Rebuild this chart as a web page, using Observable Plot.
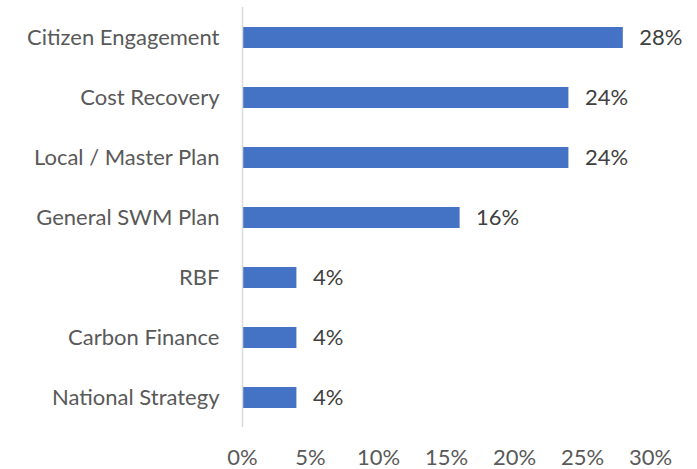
<!DOCTYPE html>
<html>
<head>
<meta charset="utf-8">
<script src="https://cdn.jsdelivr.net/npm/d3@7"></script>
<script src="https://cdn.jsdelivr.net/npm/@observablehq/plot@0.6"></script>
<style>
  html, body { margin: 0; padding: 0; background: #fff; }
  #chart svg { display: block; }
</style>
</head>
<body>
<div id="chart"></div>
<script>
const categories = ["Citizen Engagement", "Cost Recovery", "Local / Master Plan", "General SWM Plan", "RBF", "Carbon Finance", "National Strategy"];
const values = [28, 24, 24, 16, 4, 4, 4];
const xTicks = [0, 5, 10, 15, 20, 25, 30];

const data = categories.map((c, i) => ({category: c, value: values[i]}));

const chart = Plot.plot({
  width: 697,
  height: 469,
  marginLeft: 242,
  marginRight: 47,
  marginTop: 7,
  marginBottom: 42,
  style: {fontFamily: "Lato, sans-serif", fontSize: "22px", color: "#595959", background: "#fff"},
  x: {domain: [0, 30], ticks: xTicks, tickFormat: d => d + "%", label: null},
  y: {domain: categories, paddingInner: 0.65, paddingOuter: 0.325, label: null},
  marks: [
    Plot.barX(data, {x: "value", y: "category", fill: "#4472C4"}),
    Plot.ruleX([0], {stroke: "#d9d9d9", strokeWidth: 1.5}),
    Plot.text(data, {x: "value", y: "category", text: d => d.value + "%", textAnchor: "start", dx: 16, fill: "#404040", fontSize: 22}),
    Plot.axisY({tickSize: 0, tickPadding: 23, fill: "#595959", fontSize: 22}),
    Plot.axisX({ticks: xTicks, tickFormat: d => d + "%", tickSize: 0, tickPadding: 22, fill: "#595959", fontSize: 22})
  ]
});
document.getElementById("chart").appendChild(chart);
</script>
</body>
</html>
